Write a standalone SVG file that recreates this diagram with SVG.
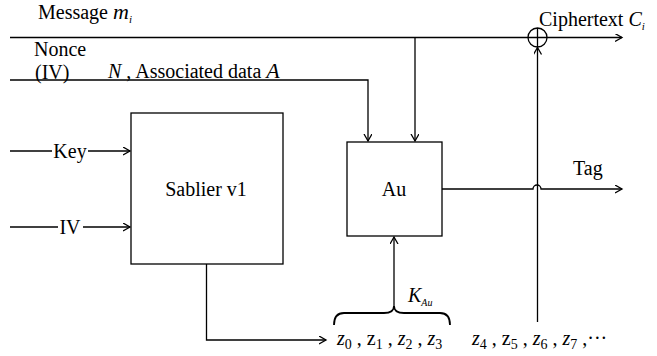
<svg xmlns="http://www.w3.org/2000/svg" width="657" height="356" viewBox="0 0 657 356">
<style>
.ln{fill:none;stroke:#000;stroke-width:1.3}
.t{font-family:"Liberation Serif","Times New Roman",serif;font-size:20px;fill:#000}
.i{font-style:italic}
.box{fill:#fff;stroke:#000;stroke-width:1.3}
</style>
<defs>
<marker id="ar" markerUnits="userSpaceOnUse" markerWidth="10" markerHeight="10" refX="7" refY="4" orient="auto">
<path d="M0,0 L7,4 L0,8" fill="none" stroke="#000" stroke-width="1.3"/>
</marker>
</defs>
<rect width="657" height="356" fill="#fff"/>
<g id="connectors">
<path class="ln" d="M10,37.5 H622" marker-end="url(#ar)"/>
<path class="ln" d="M10,80 H368 V141" marker-end="url(#ar)"/>
<path class="ln" d="M415,37.5 V141" marker-end="url(#ar)"/>
<path class="ln" d="M10,151 H52"/>
<path class="ln" d="M88,151 H130" marker-end="url(#ar)"/>
<path class="ln" d="M10,227 H58"/>
<path class="ln" d="M83,227 H130" marker-end="url(#ar)"/>
<path class="ln" d="M442,189 H533 A4,4 0 0 1 541,189 H622" marker-end="url(#ar)"/>
<path class="ln" d="M537.5,322 V47.5" marker-end="url(#ar)"/>
<path class="ln" d="M206.5,264 V340 H326" marker-end="url(#ar)"/>
<path class="ln" d="M394,308 V237" marker-end="url(#ar)"/>
<path fill="none" stroke="#000" stroke-width="1.8" d="M334,325 Q334,313 344,313 L384,313 Q394,313 394,306 Q394,313 404,313 L440,313 Q450,313 450,325"/>
</g>
<g id="xor">
<circle cx="537.5" cy="37.5" r="9.5" fill="none" stroke="#000" stroke-width="1.3"/>
<path class="ln" d="M537.5,28 V47"/>
</g>
<g id="sablier">
<rect class="box" x="131" y="113" width="152" height="151"/>
<text class="t" x="206" y="196" text-anchor="middle">Sablier v1</text>
</g>
<g id="au">
<rect class="box" x="347" y="142" width="95" height="94"/>
<text class="t" x="394" y="196" text-anchor="middle">Au</text>
</g>
<g id="labels">
<text class="t" x="38" y="19">Message <tspan class="i" font-size="22">m</tspan><tspan class="i" font-size="11" dy="4">i</tspan></text>
<text class="t" x="34" y="56">Nonce</text>
<text class="t" x="35" y="79">(IV)</text>
<text class="t" x="108" y="78"><tspan class="i">N</tspan> , Associated data <tspan class="i" font-size="22">A</tspan></text>
<text class="t" x="539" y="26" font-size="19">Ciphertext  <tspan class="i" font-size="20">C</tspan><tspan class="i" font-size="11" dy="4">i</tspan></text>
<text class="t" x="70" y="158" text-anchor="middle">Key</text>
<text class="t" x="70" y="234" text-anchor="middle">IV</text>
<text class="t" x="573" y="175">Tag</text>
<text class="t" x="408" y="302"><tspan class="i">K</tspan><tspan class="i" font-size="10" dy="4">Au</tspan></text>
<text class="t" x="337" y="345" font-size="21"><tspan class="i">z</tspan><tspan font-size="14" dy="4">0</tspan><tspan dy="-4"> , z</tspan><tspan font-size="14" dy="4">1</tspan><tspan dy="-4"> , </tspan><tspan class="i">z</tspan><tspan font-size="14" dy="4">2</tspan><tspan dy="-4"> , </tspan><tspan class="i">z</tspan><tspan font-size="14" dy="4">3</tspan></text>
<text class="t" x="472" y="345" font-size="21"><tspan class="i">z</tspan><tspan font-size="14" dy="4">4</tspan><tspan dy="-4"> , z</tspan><tspan font-size="14" dy="4">5</tspan><tspan dy="-4"> , </tspan><tspan class="i">z</tspan><tspan font-size="14" dy="4">6</tspan><tspan dy="-4"> , </tspan><tspan class="i">z</tspan><tspan font-size="14" dy="4">7</tspan><tspan dy="-4"> ,···</tspan></text>
</g>
</svg>
